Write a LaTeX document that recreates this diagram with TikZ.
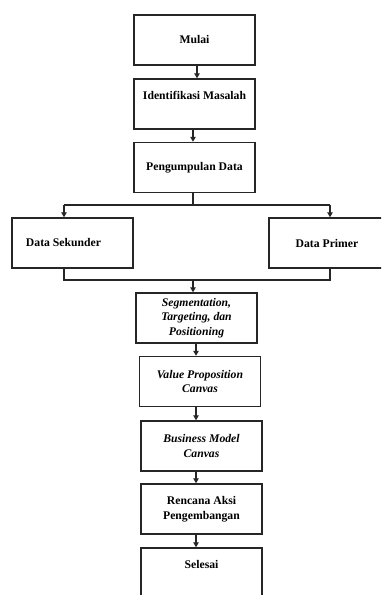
\documentclass[tikz,border=0pt]{standalone}
\usepackage{fontspec}
\setmainfont{Liberation Serif}
\usetikzlibrary{arrows.meta}
\begin{document}
\begin{tikzpicture}[x=1pt,y=-1pt,
  box/.style={draw=black!85, line width=1.5pt, minimum width=121pt, minimum height=50pt,
    inner sep=0pt, align=center, font=\fontsize{11.7}{14.5}\selectfont\bfseries},
  conn/.style={draw=black!85, line width=1.3pt},
  arr/.style={conn, -{Triangle[length=5pt,width=5.5pt]}}]
\useasboundingbox (0,0) rectangle (381,595);
\clip (0,0) rectangle (381,595);
\node[box] (mulai) at (194.5,40) {Mulai};
\node[box] (ident) at (194.5,104) {Identifikasi Masalah\\[2pt]};
\node[box] (peng) at (194.5,167.5) {Pengumpulan Data};
\node[box] (sek) at (72.5,243) {Data Sekunder\hspace{18pt}};
\node[box] (prim) at (329.5,243) {Data Primer\hspace{5pt}};
\node[box] (stp) at (196.5,318) {\itshape Segmentation,\\\itshape Targeting, dan\\\itshape Positioning};
\node[box] (vpc) at (200,381.5) {\itshape Value Proposition\\\itshape Canvas};
\node[box] (bmc) at (201.5,446) {\itshape Business Model\\\itshape Canvas};
\node[box] (rap) at (201.5,509) {Rencana Aksi\\Pengembangan};
\node[box] (sel) at (201.5,573) {Selesai\\[2pt]};
\coordinate (split) at (193,205);
\coordinate (sl) at (64,205);
\coordinate (sr) at (330,205);
\coordinate (ml) at (64,280);
\coordinate (mr) at (330,280);
\coordinate (mc) at (193,280);
\draw[arr] (197,65) coordinate (a1) (mulai.south -| a1) -- (ident.north -| a1);
\draw[arr] (ident.south -| split) -- (peng.north -| split);
\draw[conn] (peng.south -| split) -- (split);
\draw[conn] (sl) -- (sr);
\draw[arr] (sl) -- (sek.north -| sl);
\draw[arr] (sr) -- (prim.north -| sr);
\draw[conn] (sek.south -| ml) -- (ml) -- (mr) -- (prim.south -| mr);
\draw[arr] (mc) -- (stp.north -| mc);
\coordinate (cx) at (196,0);
\draw[arr] (stp.south -| cx) -- (vpc.north -| cx);
\draw[arr] (vpc.south -| cx) -- (bmc.north -| cx);
\draw[arr] (bmc.south -| cx) -- (rap.north -| cx);
\draw[arr] (rap.south -| cx) -- (sel.north -| cx);
\end{tikzpicture}
\end{document}
